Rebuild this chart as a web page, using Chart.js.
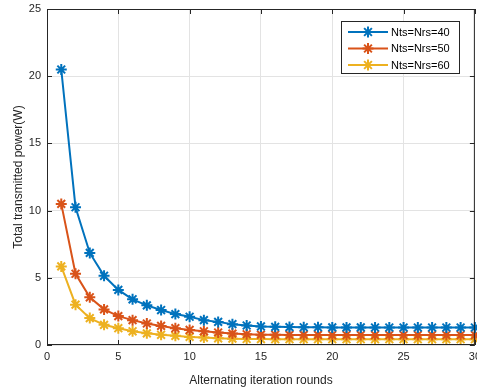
<!DOCTYPE html>
<html><head><meta charset="utf-8">
<script src="https://cdn.jsdelivr.net/npm/chart.js@4.4.1/dist/chart.umd.min.js"></script>
<style>html,body{margin:0;padding:0;background:#fff;overflow:hidden}#w{width:477px;height:392px;overflow:hidden}</style>
</head><body><div id="w"><canvas id="c" width="486" height="392"></canvas></div>
<script>
const rounds = [1,2,3,4,5,6,7,8,9,10,11,12,13,14,15,16,17,18,19,20,21,22,23,24,25,26,27,28,29,30];
const labels = ['Nts=Nrs=40','Nts=Nrs=50','Nts=Nrs=60'];
const power40 = [20.5,10.25,6.85,5.15,4.1,3.4,2.95,2.6,2.3,2.1,1.85,1.72,1.55,1.45,1.38,1.35,1.33,1.32,1.32,1.31,1.31,1.31,1.3,1.3,1.3,1.3,1.3,1.3,1.3,1.3];
const power50 = [10.5,5.3,3.55,2.65,2.15,1.85,1.6,1.42,1.25,1.12,1.02,0.93,0.85,0.8,0.77,0.76,0.75,0.75,0.75,0.74,0.74,0.74,0.74,0.74,0.74,0.74,0.74,0.74,0.74,0.74];
const power60 = [5.85,3.0,2.0,1.5,1.25,1.02,0.87,0.76,0.68,0.6,0.55,0.5,0.47,0.45,0.44,0.43,0.43,0.43,0.43,0.43,0.43,0.43,0.43,0.43,0.43,0.43,0.43,0.43,0.43,0.43];
const xTicks = [0,5,10,15,20,25,30];
const yTicks = [0,5,10,15,20,25];
const colors = ['#0072BD','#D95319','#EDB120'];
const FONT = 'Liberation Sans, Arial, Helvetica, sans-serif';

const series = [power40, power50, power60];
const datasets = series.map((s,i)=>({
  label: labels[i],
  data: s.map((v,j)=>({x:rounds[j], y:v})),
  borderColor: colors[i], backgroundColor: colors[i],
  borderWidth: 2, pointStyle: 'star', pointRadius: 5.5, pointBorderWidth: 2,
  pointHoverRadius: 5.5, tension: 0, clip: false
}));

const frame = {
  id: 'frame',
  afterDatasetsDraw(chart){
    const {ctx, chartArea:a, scales:{x,y}} = chart;
    ctx.save();
    ctx.strokeStyle = '#262626'; ctx.lineWidth = 1;
    ctx.strokeRect(a.left+0.5, a.top+0.5, a.right-a.left-1, a.bottom-a.top-1);
    ctx.beginPath();
    xTicks.forEach(t=>{ const px=Math.round(x.getPixelForValue(t))+0.5;
      ctx.moveTo(px,a.bottom); ctx.lineTo(px,a.bottom-5);
      ctx.moveTo(px,a.top); ctx.lineTo(px,a.top+5);});
    yTicks.forEach(t=>{ const py=Math.round(y.getPixelForValue(t))+0.5;
      ctx.moveTo(a.left,py); ctx.lineTo(a.left+5,py);
      ctx.moveTo(a.right,py); ctx.lineTo(a.right-5,py);});
    ctx.stroke();
    // legend
    const lx=341, ly=21, lw=118, lh=52;
    ctx.fillStyle='#fff'; ctx.fillRect(lx,ly,lw,lh);
    ctx.strokeStyle='#262626'; ctx.lineWidth=1; ctx.strokeRect(lx+0.5,ly+0.5,lw,lh);
    chart.data.datasets.forEach((d,i)=>{
      const yy = ly + 11 + i*16.5;
      ctx.strokeStyle=d.borderColor; ctx.fillStyle=d.borderColor; ctx.lineWidth=2;
      ctx.beginPath(); ctx.moveTo(348,yy); ctx.lineTo(388,yy); ctx.stroke();
      Chart.helpers.drawPoint(ctx,{pointStyle:'star',radius:5.5,rotation:0,borderWidth:2},368,yy);
      ctx.fillStyle='#000'; ctx.font='11px '+FONT; ctx.textBaseline='middle'; ctx.textAlign='left';
      ctx.fillText(d.label, 391, yy+0.5);
    });
    ctx.restore();
  }
};

new Chart(document.getElementById('c'), {
  type: 'line',
  data: { datasets },
  options: {
    responsive: false, animation: false,
    layout: { padding: { top: 9, right: 2, left: 7, bottom: 0 } },
    plugins: { legend: { display: false }, tooltip: { enabled: false } },
    scales: {
      x: { type: 'linear', min: 0, max: 30,
        afterBuildTicks(s){ s.ticks = xTicks.map(v=>({value:v})); },
        afterFit(s){ s.height = 47; },
        grid: { color: '#e3e3e3', drawTicks: false, lineWidth: 1 },
        border: { display: false },
        ticks: { color: '#262626', font: { family: FONT, size: 11 }, padding: 5, maxRotation: 0 },
        title: { display: true, text: 'Alternating iteration rounds', color: '#262626', font: { family: FONT, size: 12 }, padding: { top: 3 } }
      },
      y: { min: 0, max: 25,
        afterBuildTicks(s){ s.ticks = yTicks.map(v=>({value:v})); },
        afterFit(s){ s.width = 40; s.paddingTop = 0; s.paddingBottom = 0; },
        grid: { color: '#e3e3e3', drawTicks: false, lineWidth: 1 },
        border: { display: false },
        ticks: { color: '#262626', font: { family: FONT, size: 11 }, padding: 6 },
        title: { display: true, text: 'Total transmitted power(W)', color: '#262626', font: { family: FONT, size: 12 }, padding: { bottom: 0 } }
      }
    }
  },
  plugins: [frame]
});
</script></body></html>
